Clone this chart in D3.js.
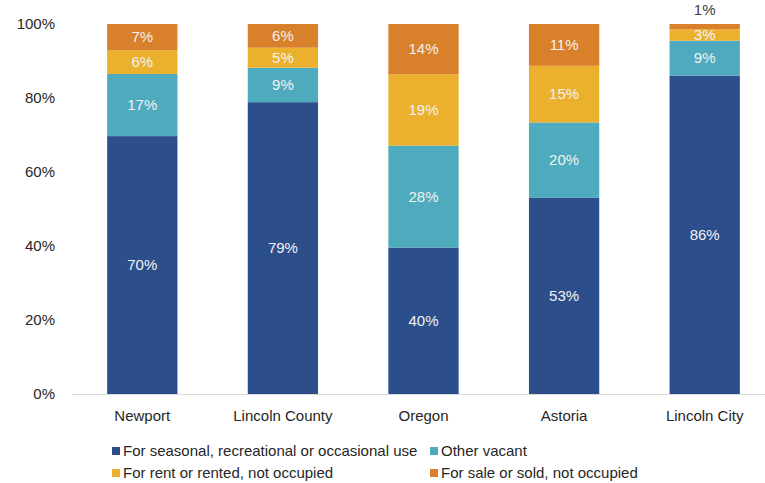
<!DOCTYPE html>
<html>
<head>
<meta charset="utf-8">
<script src="https://cdn.jsdelivr.net/npm/d3@7"></script>
<style>
  body { margin: 0; background: #fff; }
  text { font-family: "Liberation Sans", Arial, sans-serif; }
</style>
</head>
<body>
<div id="chart"></div>
<script>
// categories and series (percent of vacant units)
const places = ["Newport", "Lincoln County", "Oregon", "Astoria", "Lincoln City"];
const seriesNames = [
  "For seasonal, recreational or occasional use",
  "Other vacant",
  "For rent or rented, not occupied",
  "For sale or sold, not occupied"
];
const seasonal = [69.7, 78.8, 39.6, 53.0, 85.8];
const otherVacant = [16.8, 9.3, 27.6, 20.4, 9.4];
const forRent = [6.4, 5.4, 19.3, 15.3, 3.1];
const forSale = [7.1, 6.4, 13.6, 11.3, 1.4];
const yTicks = [0, 0.2, 0.4, 0.6, 0.8, 1];
const colors = ["#2c4f8b", "#4eaabd", "#ebb02e", "#d9802a"];

const width = 765, height = 483;
const margin = { top: 24, right: 0, bottom: 89, left: 72 };

const svg = d3.select("#chart").append("svg")
  .attr("width", width)
  .attr("height", height);

const rows = places.map((p, i) => ({
  place: p,
  s0: seasonal[i], s1: otherVacant[i], s2: forRent[i], s3: forSale[i]
}));
const keys = ["s0", "s1", "s2", "s3"];
const stacked = d3.stack().keys(keys).offset(d3.stackOffsetExpand)(rows);

const x = d3.scaleBand()
  .domain(places)
  .range([margin.left, 775])
  .paddingInner(0.5)
  .paddingOuter(0.25);

const y = d3.scaleLinear()
  .domain([0, 1])
  .range([height - margin.bottom, margin.top]);

// y axis labels
svg.append("g")
  .selectAll("text")
  .data(yTicks)
  .join("text")
  .attr("x", 55)
  .attr("y", d => y(d))
  .attr("dy", "0.35em")
  .attr("text-anchor", "end")
  .style("font-size", "15px")
  .style("fill", "#262626")
  .text(d => d3.format(".0%")(d));

// baseline
svg.append("line")
  .attr("x1", margin.left)
  .attr("x2", width)
  .attr("y1", y(0) + 0.5)
  .attr("y2", y(0) + 0.5)
  .attr("stroke", "#d9d9d9")
  .attr("stroke-width", 1);

// bars
const layers = svg.append("g")
  .selectAll("g")
  .data(stacked)
  .join("g")
  .attr("fill", (d, i) => colors[i]);

layers.selectAll("rect")
  .data(d => d)
  .join("rect")
  .attr("x", d => x(d.data.place))
  .attr("y", d => y(d[1]))
  .attr("width", x.bandwidth())
  .attr("height", d => y(d[0]) - y(d[1]));

// value labels
const series = [seasonal, otherVacant, forRent, forSale];
stacked.forEach((layer, li) => {
  layer.forEach((d, pi) => {
    const v = series[li][pi];
    const small = v < 2;
    svg.append("text")
      .attr("x", x(d.data.place) + x.bandwidth() / 2)
      .attr("y", small ? y(d[1]) - 14 : y((d[0] + d[1]) / 2))
      .attr("dy", "0.35em")
      .attr("text-anchor", "middle")
      .style("font-size", "15px")
      .style("fill", small ? "#404040" : "#f2f2f2")
      .text(Math.round(v) + "%");
  });
});

// category labels
svg.append("g")
  .selectAll("text")
  .data(places)
  .join("text")
  .attr("x", d => x(d) + x.bandwidth() / 2)
  .attr("y", 416)
  .attr("dy", "0.35em")
  .attr("text-anchor", "middle")
  .style("font-size", "15px")
  .style("fill", "#262626")
  .text(d => d);

// legend
const legendPos = [[112, 451], [430, 451], [112, 473], [430, 473]];
const legend = svg.append("g")
  .selectAll("g")
  .data(seriesNames)
  .join("g")
  .attr("transform", (d, i) => `translate(${legendPos[i][0]}, ${legendPos[i][1]})`);

legend.append("rect")
  .attr("x", 0)
  .attr("y", -4)
  .attr("width", 8)
  .attr("height", 8)
  .attr("fill", (d, i) => colors[i]);

legend.append("text")
  .attr("x", 11)
  .attr("y", 0)
  .attr("dy", "0.35em")
  .style("font-size", "15px")
  .style("fill", "#262626")
  .text(d => d);
</script>
</body>
</html>
